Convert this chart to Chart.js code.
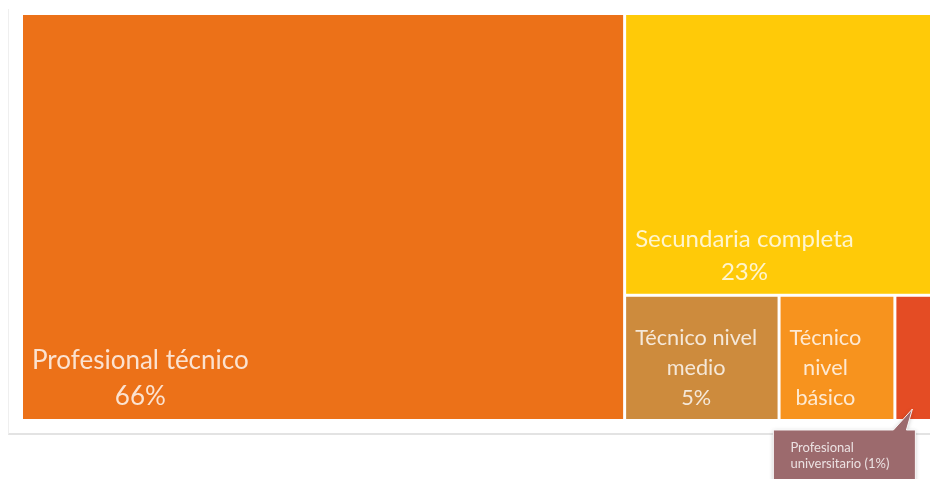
<!DOCTYPE html>
<html>
<head>
<meta charset="utf-8">
<script src="https://cdn.jsdelivr.net/npm/chart.js@4.4.0/dist/chart.umd.min.js"></script>
<style>
  html, body { margin: 0; padding: 0; background: #ffffff; overflow: hidden; width: 930px; height: 479px; }
  #frame { position: absolute; left: 8px; top: 9px; width: 960px; height: 424px;
           border-left: 1px solid #efefef; border-bottom: 2px solid #e3e3e3; }
  #wrap { position: absolute; left: 0; top: 0; width: 940px; height: 479px; }
</style>
</head>
<body>
<div id="frame"></div>
<div id="wrap"><canvas id="c" width="940" height="479"></canvas></div>
<script>
// Nivel educativo: participación (%) de cada categoría
const categories = ['Profesional técnico', 'Secundaria completa', 'Técnico nivel medio', 'Técnico nivel básico', 'Profesional universitario'];
const shares = [66.0, 23.4, 5.2, 3.9, 1.3];

// Estilo de cada celda
const cellColors = ['#EC7118', '#FFCA08', '#CD8B3D', '#F7931E', '#E44C24'];
const labelSizes = [26, 24, 21.7, 21.7, 21.7];
const labelColor = 'rgba(255,255,255,0.8)';
const calloutColor = '#9C6A6D';
const fontFamily = 'Lato, "Open Sans", sans-serif';

// Disposición: la primera categoría ocupa una columna, la segunda la parte
// superior del resto y las demás se reparten en una fila inferior.
function layoutCells(vals) {
  const total = vals.reduce((a, b) => a + b, 0);
  const xSplit = vals[0] / total * 100;
  const cells = [{ x0: 0, x1: xSplit, y0: 0, y1: 100 }];
  const rest = total - vals[0];
  const ySplit = vals[1] / rest * 100;
  cells.push({ x0: xSplit, x1: 100, y0: 0, y1: ySplit });
  const rowTotal = rest - vals[1];
  let x = xSplit;
  for (let i = 2; i < vals.length; i++) {
    const w = vals[i] / rowTotal * (100 - xSplit);
    cells.push({ x0: x, x1: x + w, y0: ySplit, y1: 100 });
    x += w;
  }
  return cells;
}

function wrapWords(ctx, text, maxW) {
  const words = text.split(' ');
  for (const w of words) if (ctx.measureText(w).width > maxW) return null;
  const lines = [];
  let cur = '';
  for (const w of words) {
    const test = cur ? cur + ' ' + w : w;
    if (ctx.measureText(test).width <= maxW) cur = test;
    else { lines.push(cur); cur = w; }
  }
  if (cur) lines.push(cur);
  return lines;
}

const treemapPlugin = {
  id: 'treemapCells',
  afterDatasetsDraw(chart) {
    const ctx = chart.ctx;
    const xs = chart.scales.x, ys = chart.scales.y;
    const cells = layoutCells(shares);
    const gap = 1.5, pad = 9;
    const boxes = cells.map(c => {
      const l = xs.getPixelForValue(c.x0) + gap, r = xs.getPixelForValue(c.x1) - gap;
      const t = ys.getPixelForValue(c.y0) + gap, b = ys.getPixelForValue(c.y1) - gap;
      return { l, r, t, b };
    });
    ctx.save();
    boxes.forEach((bx, i) => {
      ctx.fillStyle = cellColors[i];
      ctx.fillRect(bx.l, bx.t, bx.r - bx.l, bx.b - bx.t);
    });

    const callouts = [];
    boxes.forEach((bx, i) => {
      const size = labelSizes[i];
      const lh = Math.round(size * 1.37);
      ctx.font = size + 'px ' + fontFamily;
      const maxW = bx.r - bx.l - 2 * pad;
      const lines = wrapWords(ctx, categories[i], maxW);
      if (!lines) { callouts.push(i); return; }
      const pct = Math.round(shares[i]) + '%';
      if ((lines.length + 1) * lh <= bx.b - bx.t - 24) lines.push(pct);
      const blockW = Math.max(...lines.map(s => ctx.measureText(s).width));
      const cx = bx.l + pad + blockW / 2;
      let y = bx.b - 14 - (lines.length - 1) * lh;
      ctx.fillStyle = labelColor;
      ctx.textAlign = 'center';
      ctx.textBaseline = 'alphabetic';
      lines.forEach(s => { ctx.fillText(s, cx, y); y += lh; });
    });

    // Globo de texto para las celdas demasiado pequeñas
    callouts.forEach(i => {
      const bx = boxes[i];
      const tipX = bx.l + 16, tipY = bx.b - 10;
      const right = tipX + 3, left = right - 142, top = bx.b + 11, bottom = top + 70;
      ctx.save();
      ctx.beginPath();
      ctx.moveTo(left, top);
      ctx.lineTo(tipX - 19, top);
      ctx.lineTo(tipX, tipY);
      ctx.lineTo(tipX - 6, top);
      ctx.lineTo(right, top);
      ctx.lineTo(right, bottom);
      ctx.lineTo(left, bottom);
      ctx.closePath();
      ctx.shadowColor = 'rgba(0,0,0,0.25)';
      ctx.shadowBlur = 4;
      ctx.shadowOffsetY = 1;
      ctx.fillStyle = calloutColor;
      ctx.fill();
      ctx.shadowColor = 'transparent';
      ctx.strokeStyle = 'rgba(255,255,255,0.9)';
      ctx.lineWidth = 1;
      ctx.stroke();
      ctx.restore();
      ctx.font = '13px ' + fontFamily;
      ctx.fillStyle = labelColor;
      ctx.textAlign = 'left';
      ctx.textBaseline = 'alphabetic';
      ctx.fillText('Profesional', left + 17, top + 22);
      ctx.fillText('universitario (' + Math.round(shares[i]) + '%)', left + 17, top + 38);
    });
    ctx.restore();
  }
};

new Chart(document.getElementById('c'), {
  type: 'scatter',
  data: { datasets: [{ data: [] }] },
  options: {
    responsive: false,
    animation: false,
    devicePixelRatio: 1,
    events: [],
    layout: { padding: { left: 21.5, top: 13.5, right: 6.5, bottom: 58.5 } },
    scales: {
      x: { type: 'linear', min: 0, max: 100, display: false },
      y: { type: 'linear', min: 0, max: 100, reverse: true, display: false }
    },
    plugins: { legend: { display: false }, tooltip: { enabled: false } }
  },
  plugins: [treemapPlugin]
});
</script>
</body>
</html>
